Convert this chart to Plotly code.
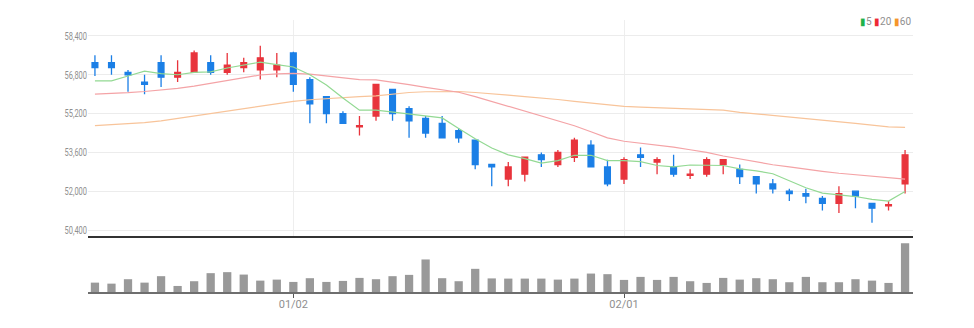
import plotly.graph_objects as go

# trading days (category axis)
dates = [
    "2022-12-14", "2022-12-15", "2022-12-16", "2022-12-19", "2022-12-20",
    "2022-12-21", "2022-12-22", "2022-12-23", "2022-12-26", "2022-12-27",
    "2022-12-28", "2022-12-29", "2023-01-02", "2023-01-03", "2023-01-04",
    "2023-01-05", "2023-01-06", "2023-01-09", "2023-01-10", "2023-01-11",
    "2023-01-12", "2023-01-13", "2023-01-16", "2023-01-17", "2023-01-18",
    "2023-01-19", "2023-01-20", "2023-01-25", "2023-01-26", "2023-01-27",
    "2023-01-30", "2023-01-31", "2023-02-01", "2023-02-02", "2023-02-03",
    "2023-02-06", "2023-02-07", "2023-02-08", "2023-02-09", "2023-02-10",
    "2023-02-13", "2023-02-14", "2023-02-15", "2023-02-16", "2023-02-17",
    "2023-02-20", "2023-02-21", "2023-02-22", "2023-02-23", "2023-02-24",
]

open_ = [57300, 57300, 56900, 56500, 57300, 56700, 56900, 57300, 56900, 57100,
         57000, 57000, 57700, 56600, 55900, 55200, 54650, 55100, 56200, 55400,
         55000, 54800, 54500, 54100, 53100, 52500, 52700, 53500, 53100, 53400,
         53900, 53000, 52500, 53500, 53200, 53000, 52650, 52700, 53100, 52900,
         52600, 52300, 52000, 51900, 51700, 51500, 52000, 51500, 51400, 52300]
high = [57600, 57600, 57000, 56800, 57600, 57400, 57800, 57600, 57700, 57500,
        58000, 57700, 57750, 56700, 55900, 55300, 55100, 56400, 56200, 55500,
        55100, 55100, 54600, 54100, 53100, 53200, 53400, 53600, 53700, 54200,
        54100, 53300, 53400, 53800, 53400, 53500, 52900, 53400, 53300, 53100,
        52600, 52500, 52100, 52100, 51800, 52200, 52000, 51500, 51600, 53700]
low = [56750, 56800, 56100, 56000, 56300, 56500, 56900, 56800, 56800, 56900,
       56600, 56700, 56100, 54800, 54800, 54800, 54300, 54900, 54900, 54200,
       54200, 54200, 54000, 52900, 52200, 52200, 52400, 53000, 53000, 53200,
       53000, 52200, 52300, 53000, 52700, 52600, 52500, 52600, 52700, 52300,
       51900, 51900, 51600, 51500, 51200, 51100, 51300, 50700, 51200, 51900]
close = [57100, 57100, 56800, 56400, 56700, 56900, 57700, 56900, 57200, 57300,
         57500, 57200, 56400, 55600, 55200, 54800, 54700, 56400, 55200, 54900,
         54400, 54200, 54200, 53100, 53000, 53000, 53400, 53300, 53600, 54100,
         53000, 52300, 53300, 53400, 53300, 52700, 52700, 53300, 53300, 52600,
         52300, 52100, 51900, 51800, 51500, 51900, 51800, 51300, 51450, 53500]

# moving averages
ma5 = [56550, 56550, 56750, 56950, 56850, 56800, 56900, 56920, 57080, 57200,
       57320, 57220, 57120, 56800, 56380, 55840, 55340, 55340, 55260, 55200,
       55120, 55020, 54580, 54160, 53780, 53500, 53340, 53160, 53260, 53480,
       53480, 53260, 53260, 53220, 53060, 53000, 53080, 53080, 53060, 52920,
       52840, 52720, 52440, 52140, 51920, 51840, 51780, 51660, 51590, 51990]
ma20 = [56000, 56020, 56060, 56110, 56170, 56240, 56330, 56440, 56560, 56680,
        56790, 56840, 56860, 56830, 56760, 56680, 56600, 56590, 56500, 56390,
        56280, 56180, 56080, 55900, 55700, 55500, 55300, 55080, 54880, 54700,
        54450, 54200, 54060, 53990, 53920, 53820, 53710, 53600, 53450, 53320,
        53200, 53090, 53000, 52900, 52820, 52740, 52680, 52600, 52540, 52500]
ma60 = [54700, 54740, 54790, 54830, 54900, 55000, 55100, 55200, 55300, 55410,
        55500, 55600, 55700, 55770, 55820, 55860, 55900, 55930, 56000, 56070,
        56100, 56110, 56110, 56070, 56000, 55960, 55900, 55850, 55780, 55700,
        55630, 55560, 55500, 55470, 55450, 55430, 55410, 55380, 55340, 55250,
        55190, 55120, 55060, 55000, 54940, 54870, 54800, 54720, 54650, 54630]

# volume, thousand shares
volume = [2790, 2490, 3810, 2790, 4710, 1800, 3210, 5610, 5910, 5190,
          3390, 3690, 3000, 4110, 3000, 3300, 4200, 3810, 4710, 5100,
          9690, 4110, 3210, 6900, 4050, 3990, 3990, 3990, 3690, 3990,
          5490, 5310, 3600, 4500, 3600, 4500, 3210, 2700, 4200, 3690,
          4110, 3810, 2910, 4500, 2910, 2910, 3810, 3390, 2700, 14490]

price_ticks = [50400, 52000, 53600, 55200, 56800, 58400]
date_ticks = ["2023-01-02", "2023-02-01"]
date_tick_text = ["01/02", "02/01"]

UP = "#e8343c"
DOWN = "#1b7fe6"
FONT = "Roboto, sans-serif"

fig = go.Figure()

fig.add_trace(go.Candlestick(
    x=dates, open=open_, high=high, low=low, close=close,
    increasing=dict(line=dict(color=UP, width=1.3), fillcolor=UP),
    decreasing=dict(line=dict(color=DOWN, width=1.3), fillcolor=DOWN),
    whiskerwidth=0, showlegend=False, xaxis="x", yaxis="y",
))

for vals, col in ((ma60, "#f8c49a"), (ma20, "#f4a3a6"), (ma5, "#93d993")):
    fig.add_trace(go.Scatter(
        x=dates, y=vals, mode="lines", line=dict(color=col, width=1.2),
        showlegend=False, hoverinfo="skip", xaxis="x", yaxis="y",
    ))

fig.add_trace(go.Bar(
    x=dates, y=volume, marker=dict(color="#999999", line=dict(width=0)),
    width=0.5, showlegend=False, xaxis="x2", yaxis="y2",
))

x_range = [-0.42, 49.48]

fig.update_layout(
    width=974, height=328,
    margin=dict(l=88, r=61, t=20, b=36),
    paper_bgcolor="white", plot_bgcolor="white",
    boxgap=0.5,
    bargap=0.5,
    font=dict(family=FONT, size=11, color="#8f8f8f"),
    xaxis=dict(
        type="category", range=x_range, domain=[0, 1], anchor="y",
        tickvals=date_ticks, ticktext=date_tick_text, showticklabels=False,
        showgrid=True, gridcolor="#eeeeee", gridwidth=1,
        showline=True, linecolor="#333333", linewidth=2,
        rangeslider=dict(visible=False), ticks="", zeroline=False,
    ),
    yaxis=dict(
        domain=[0.2059, 1], range=[50153, 59058], anchor="x",
        tickvals=price_ticks, tickformat=",d",
        showgrid=True, gridcolor="#ececec", gridwidth=1,
        zeroline=False, showline=False, ticks="",
        tickfont=dict(family=FONT, size=11, color="#8f8f8f"),
    ),
    xaxis2=dict(
        type="category", range=x_range, domain=[0, 1], anchor="y2",
        tickvals=date_ticks, ticktext=date_tick_text,
        showgrid=False, showline=True, linecolor="#6e6e6e", linewidth=2,
        ticks="outside", ticklen=4, tickcolor="#555555", tickwidth=1,
        ticklabelstandoff=-3,
        tickfont=dict(family=FONT, size=11, color="#8f8f8f"),
        zeroline=False,
    ),
    yaxis2=dict(
        domain=[0, 0.2], range=[0, 16200], anchor="x2",
        showgrid=False, showticklabels=False, zeroline=False, showline=False,
    ),
    annotations=[dict(
        xref="paper", yref="paper", x=1.0, y=0.993,
        xanchor="right", yanchor="middle", showarrow=False,
        text=("<span style='color:#1fb24a'>▮</span>5 "
              "<span style='color:#ee2a35'>▮</span>20 "
              "<span style='color:#f5962b'>▮</span>60"),
        font=dict(family=FONT, size=10, color="#8f8f8f"),
    )],
)

# narrow the axis tick labels (condensed look)
squeeze_js = """
var gd = document.getElementById('{plot_id}');
function squeezeTicks() {
  gd.querySelectorAll('.xtick text, .ytick text').forEach(function (t) {
    if (t.getAttribute('data-narrow')) { return; }
    var w = t.getComputedTextLength();
    t.setAttribute('textLength', (w * 0.68).toFixed(1));
    t.setAttribute('lengthAdjust', 'spacingAndGlyphs');
    t.setAttribute('data-narrow', '1');
  });
}
squeezeTicks();
gd.on('plotly_afterplot', squeezeTicks);
"""

fig.write_html("out.html", post_script=squeeze_js)
